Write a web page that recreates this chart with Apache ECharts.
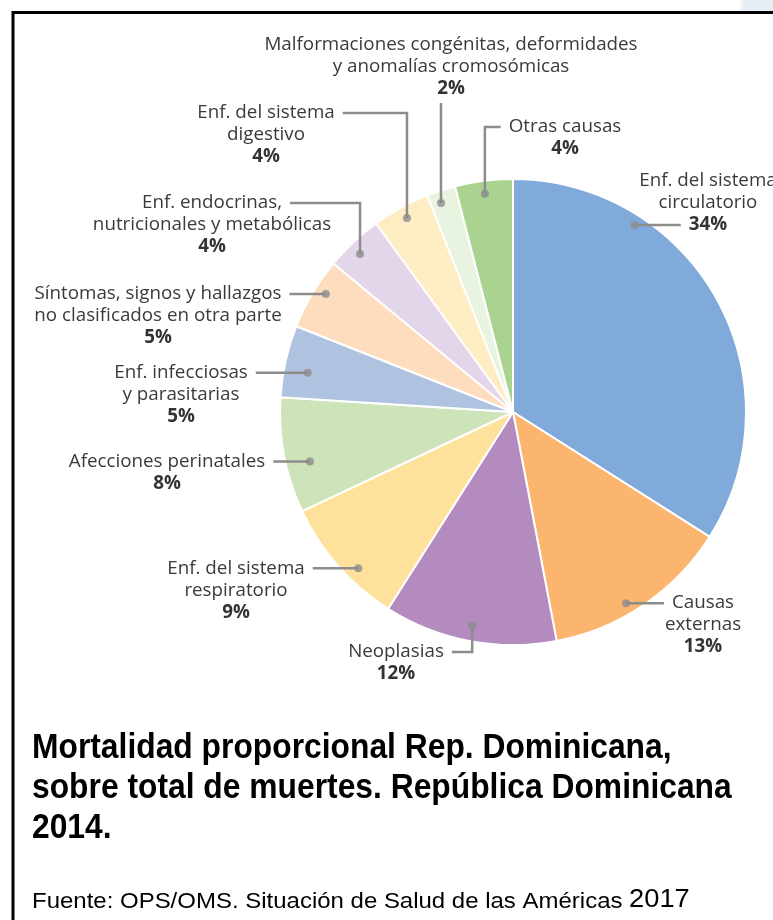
<!DOCTYPE html>
<html><head><meta charset="utf-8">
<script src="https://cdn.jsdelivr.net/npm/echarts@6/dist/echarts.min.js"></script>
<style>html,body{margin:0;padding:0;background:#fff}#c{width:773px;height:920px}</style>
</head><body><div id="c"></div>
<script>
// ---- data ----
const categories = [
  'Enf. del sistema\ncirculatorio',
  'Causas\nexternas',
  'Neoplasias',
  'Enf. del sistema\nrespiratorio',
  'Afecciones perinatales',
  'Enf. infecciosas\ny parasitarias',
  'Síntomas, signos y hallazgos\nno clasificados en otra parte',
  'Enf. endocrinas,\nnutricionales y metabólicas',
  'Enf. del sistema\ndigestivo',
  'Malformaciones congénitas, deformidades\ny anomalías cromosómicas',
  'Otras causas'
];
const values = [34, 13, 12, 9, 8, 5, 5, 4, 4, 2, 4];
const colors = ['#80AADA','#FBB56F','#B48BBF','#FEE29C','#CDE3B9','#AFC3E1','#FDDDBD','#E3D5EA','#FEEDC2','#E8F3E0','#A9D38F'];
const titleText = 'Mortalidad proporcional Rep. Dominicana,\nsobre total de muertes. República Dominicana\n2014.';
const sourceText = 'Fuente: OPS/OMS. Situación de Salud de las Américas ';
const sourceYear = '2017';

// ---- layout (positions only) ----
const CX = 513, CY = 412, R = 233, LH = 22, GAP = 8;
const FONT = 'Open Sans';
const FS = 18.8;
// label block centre x, first-line y (for elbow / vertical), attach line, side, type
const labelPos = [
  {x:708, attach:2, side:'left', type:'h'},
  {x:703, attach:0, side:'left', type:'h'},
  {x:396, y:652, attach:0, side:'right', type:'elbow'},
  {x:236, attach:0, side:'right', type:'h'},
  {x:167, attach:0, side:'right', type:'h'},
  {x:181, attach:0, side:'right', type:'h'},
  {x:158, attach:0, side:'right', type:'h'},
  {x:212, y:203, attach:0, side:'right', type:'elbow'},
  {x:266, y:113, attach:0, side:'right', type:'elbow'},
  {x:451, y:45, type:'v'},
  {x:565, y:127, attach:0, side:'left', type:'elbow'}
];
// anchor dot inside each slice: fraction along slice angle, fraction of radius
const anchorPos = [
  {t:.27, rf:.957},{t:.577, rf:.953},{t:.5, rf:.935},{t:.38, rf:.944},{t:.40, rf:.897},
  {t:.40, rf:.897},{t:.59, rf:.949},{t:.44, rf:.944},{t:.51, rf:.949},{t:.36, rf:.949},{t:.49, rf:.944}
];

const total = values.reduce((a,b)=>a+b,0);
function anchorData(i){
  const cum = values.slice(0,i).reduce((a,b)=>a+b,0);
  return [anchorPos[i].rf, (cum + anchorPos[i].t*values[i]) / total * 100];
}
function anchorPx(i){
  const [rf, pct] = anchorData(i);
  const phi = pct/100*2*Math.PI, r = rf*R;
  return [CX + r*Math.sin(phi), CY - r*Math.cos(phi)];
}
const ctx = document.createElement('canvas').getContext('2d');
function measure(txt, bold){
  ctx.font = (bold?'bold ':'') + FS + 'px "' + FONT + '"';
  return ctx.measureText(txt).width;
}
function labelLines(i){ return categories[i].split('\n').concat([values[i] + '%']); }
function labelTop(i, ay){
  const s = labelPos[i];
  return s.type === 'h' ? ay - LH/2 - LH*s.attach : s.y - LH/2;
}
function leaderPoints(i, ax, ay){
  const s = labelPos[i], lines = labelLines(i), top = labelTop(i, ay);
  if (s.type === 'v') return [[ax, top + LH*lines.length + 3], [ax, ay]];
  const ly = top + LH/2 + LH*s.attach;
  const w = measure(lines[s.attach], s.attach === lines.length-1);
  const sx = s.side === 'right' ? s.x + w/2 + GAP : s.x - w/2 - GAP;
  return s.type === 'h' ? [[sx, ay], [ax, ay]] : [[sx, ly], [ax, ly], [ax, ay]];
}

const chart = echarts.init(document.getElementById('c'), null, {renderer:'canvas'});
const option = {
  animation: false,
  backgroundColor: '#fff',
  polar: {center:[CX, CY], radius: R},
  angleAxis: {type:'value', min:0, max:100, startAngle:90, clockwise:true, show:false},
  radiusAxis: {type:'value', min:0, max:1, show:false},
  graphic: [
    {type:'rect', shape:{x:743, y:0, width:30, height:11}, style:{fill:'#E5EDF5'}, silent:true},
    {type:'rect', shape:{x:740, y:0, width:3, height:11}, style:{fill:'#F2F4F7'}, silent:true},
    {type:'line', shape:{x1:12, y1:12.5, x2:773, y2:12.5}, style:{stroke:'#000', lineWidth:3}, silent:true},
    {type:'line', shape:{x1:13, y1:11, x2:13, y2:920}, style:{stroke:'#000', lineWidth:3}, silent:true},
    {type:'text', x:32, y:728, scaleY:1.1, silent:true,
     style:{text:titleText, x:0, y:0, fill:'#000', font:'bold 31.8px "Liberation Sans"',
            lineHeight:36.4, verticalAlign:'top', align:'left'}},
    {type:'text', x:32, y:913, scaleX:1.09, silent:true,
     style:{text:'{a|' + sourceText + '}{b|' + sourceYear + '}', x:0, y:0, fill:'#000',
            verticalAlign:'bottom', align:'left',
            rich:{a:{fontFamily:'Liberation Sans', fontSize:22, fill:'#000', lineHeight:30, verticalAlign:'bottom'},
                  b:{fontFamily:'Liberation Sans', fontSize:25, fill:'#000', lineHeight:30, verticalAlign:'bottom'}}}}
  ],
  series: [
    {
      type: 'pie',
      center: [CX, CY],
      radius: R,
      startAngle: 90,
      clockwise: true,
      avoidLabelOverlap: false,
      silent: true,
      itemStyle: {borderColor:'#fff', borderWidth:2},
      data: categories.map((n,i)=>({name:n, value:values[i], itemStyle:{color:colors[i]}})),
      label: {
        show: true, position: 'outside',
        formatter: p => p.name.split('\n').map(s=>'{n|'+s+'}').join('\n') + '\n{p|' + p.value + '%}',
        rich: {
          n: {fontFamily: FONT, fontSize: FS, lineHeight: LH, color:'#3a3a3a', align:'center'},
          p: {fontFamily: FONT, fontSize: FS, lineHeight: LH, color:'#333', fontWeight:'bold', align:'center'}
        }
      },
      labelLine: {show: false},
      labelLayout: function(params){
        const i = params.dataIndex;
        const ay = anchorPx(i)[1];
        return {x: labelPos[i].x, y: labelTop(i, ay), align:'center', verticalAlign:'top'};
      }
    },
    {
      type: 'custom',
      coordinateSystem: 'polar',
      silent: true,
      z: 4,
      data: values.map((v,i)=>anchorData(i)),
      renderItem: function(params, api){
        const i = params.dataIndex;
        const a = api.coord([api.value(0), api.value(1)]);
        return {type:'polyline', shape:{points: leaderPoints(i, a[0], a[1])},
                style:{stroke:'#8c8c8c', lineWidth:2.5, fill:null}};
      }
    },
    {
      type: 'scatter',
      coordinateSystem: 'polar',
      silent: true,
      symbol: 'circle',
      symbolSize: 8,
      itemStyle: {color:'#8c8c8c'},
      z: 5,
      data: values.map((v,i)=>anchorData(i))
    }
  ]
};
chart.setOption(option);
</script>
</body></html>
